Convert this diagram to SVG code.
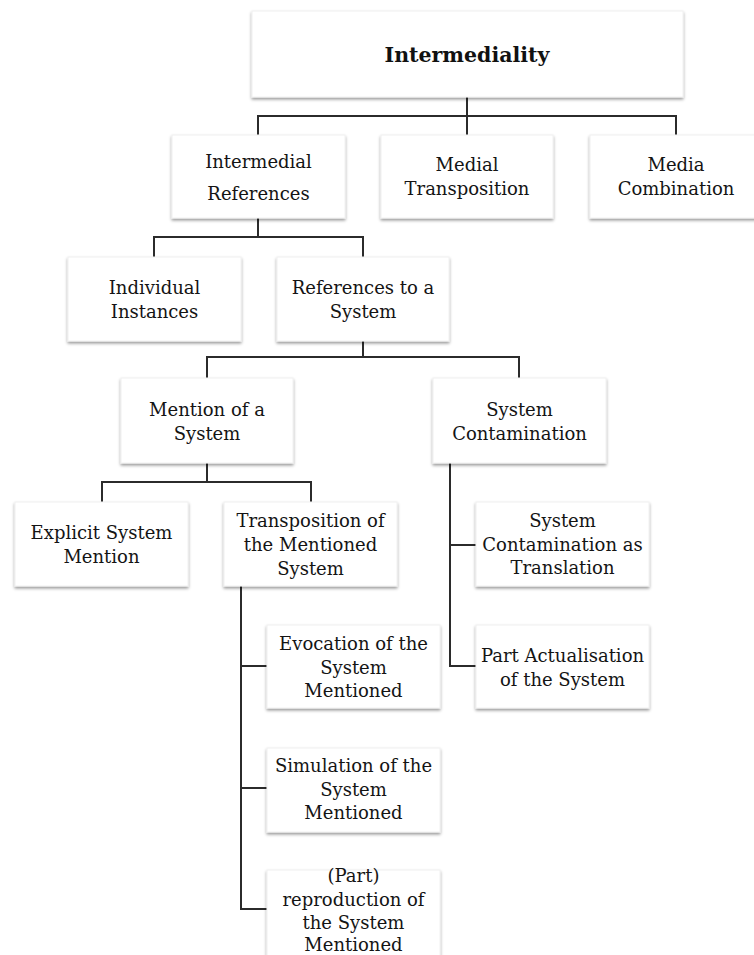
<svg xmlns="http://www.w3.org/2000/svg" width="754" height="955" viewBox="0 0 754 955">
  <defs>
    <filter id="shadow" x="-10%" y="-10%" width="120%" height="130%">
      <feDropShadow dx="0" dy="2" stdDeviation="1.6" flood-color="#000" flood-opacity="0.4"/>
    </filter>
  </defs>
  <style>
    .box { fill: #ffffff; stroke: #f0f0f0; stroke-width: 1; filter: url(#shadow); }
    .lbl { font-family: "DejaVu Serif", "Liberation Serif", serif; font-size: 18px; fill: #141414; text-anchor: middle; }
    .title { font-family: "DejaVu Serif", "Liberation Serif", serif; font-size: 20.5px; font-weight: bold; fill: #111; text-anchor: middle; }
    .wire { fill: none; stroke: #2b2b2b; stroke-width: 2; }
  </style>
  <rect width="754" height="955" fill="#ffffff"/>

  <!-- connectors -->
  <g id="connectors" class="wire">
    <path d="M467,97 V116 M258,135 V116 H676 V135 M467,116 V135"/>
    <path d="M258,218 V237 M154,257 V237 H363 V257"/>
    <path d="M363,341 V357 M207,378 V357 H519 V378"/>
    <path d="M207,463 V482 M102,502 V482 H311 V502"/>
    <path d="M450,463 V666 H477 M450,545 H477"/>
    <path d="M241,586 V909 H268 M241,666 H268 M241,788 H268"/>
  </g>

  <g id="intermediality">
    <rect class="box" x="252" y="11" width="431" height="86"/>
    <text class="title" x="467" y="62">Intermediality</text>
  </g>

  <g id="intermedial-references">
    <rect class="box" x="172" y="135" width="173" height="83"/>
    <text class="lbl" x="258.5" y="168">Intermedial</text>
    <text class="lbl" x="258.5" y="200">References</text>
  </g>

  <g id="medial-transposition">
    <rect class="box" x="381" y="135" width="172" height="83"/>
    <text class="lbl" x="467" y="171">Medial</text>
    <text class="lbl" x="467" y="195">Transposition</text>
  </g>

  <g id="media-combination">
    <rect class="box" x="590" y="135" width="172" height="83"/>
    <text class="lbl" x="676" y="171">Media</text>
    <text class="lbl" x="676" y="195">Combination</text>
  </g>

  <g id="individual-instances">
    <rect class="box" x="68" y="257" width="173" height="84"/>
    <text class="lbl" x="154.5" y="294">Individual</text>
    <text class="lbl" x="154.5" y="318">Instances</text>
  </g>

  <g id="references-to-a-system">
    <rect class="box" x="277" y="257" width="172" height="84"/>
    <text class="lbl" x="363" y="294">References to a</text>
    <text class="lbl" x="363" y="318">System</text>
  </g>

  <g id="mention-of-a-system">
    <rect class="box" x="121" y="378" width="172" height="85"/>
    <text class="lbl" x="207" y="416">Mention of a</text>
    <text class="lbl" x="207" y="440">System</text>
  </g>

  <g id="system-contamination">
    <rect class="box" x="433" y="378" width="173" height="85"/>
    <text class="lbl" x="519.5" y="416">System</text>
    <text class="lbl" x="519.5" y="440">Contamination</text>
  </g>

  <g id="explicit-system-mention">
    <rect class="box" x="15" y="502" width="173" height="84"/>
    <text class="lbl" x="101.5" y="539">Explicit System</text>
    <text class="lbl" x="101.5" y="563">Mention</text>
  </g>

  <g id="transposition-of-the-mentioned-system">
    <rect class="box" x="224" y="502" width="173" height="84"/>
    <text class="lbl" x="310.5" y="527">Transposition of</text>
    <text class="lbl" x="310.5" y="551">the Mentioned</text>
    <text class="lbl" x="310.5" y="575">System</text>
  </g>

  <g id="system-contamination-as-translation">
    <rect class="box" x="476" y="502" width="173" height="84"/>
    <text class="lbl" x="562.5" y="527">System</text>
    <text class="lbl" x="562.5" y="551">Contamination as</text>
    <text class="lbl" x="562.5" y="574">Translation</text>
  </g>

  <g id="part-actualisation-of-the-system">
    <rect class="box" x="476" y="625" width="173" height="83"/>
    <text class="lbl" x="562.5" y="662">Part Actualisation</text>
    <text class="lbl" x="562.5" y="686">of the System</text>
  </g>

  <g id="evocation-of-the-system-mentioned">
    <rect class="box" x="267" y="625" width="173" height="83"/>
    <text class="lbl" x="353.5" y="650">Evocation of the</text>
    <text class="lbl" x="353.5" y="674">System</text>
    <text class="lbl" x="353.5" y="697">Mentioned</text>
  </g>

  <g id="simulation-of-the-system-mentioned">
    <rect class="box" x="267" y="748" width="173" height="84"/>
    <text class="lbl" x="353.5" y="772">Simulation of the</text>
    <text class="lbl" x="353.5" y="796">System</text>
    <text class="lbl" x="353.5" y="819">Mentioned</text>
  </g>

  <g id="part-reproduction-of-the-system-mentioned">
    <rect class="box" x="267" y="870" width="173" height="95"/>
    <text class="lbl" x="353.5" y="882">(Part)</text>
    <text class="lbl" x="353.5" y="906">reproduction of</text>
    <text class="lbl" x="353.5" y="929">the System</text>
    <text class="lbl" x="353.5" y="951">Mentioned</text>
  </g>
</svg>
